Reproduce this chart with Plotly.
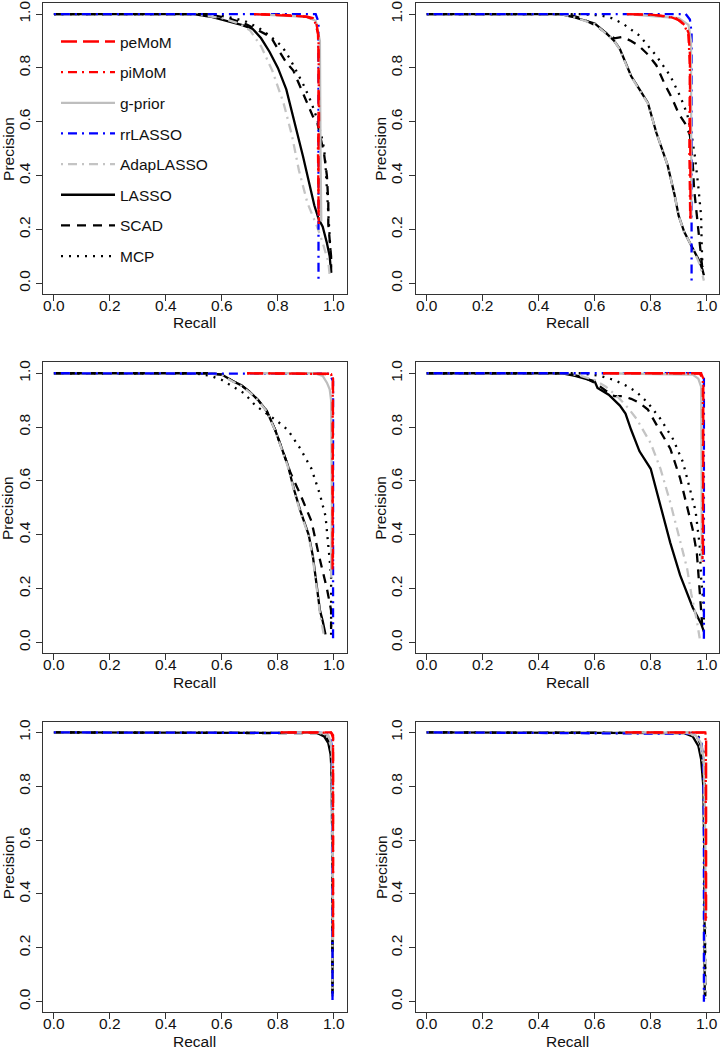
import plotly.graph_objects as go

# ---------------- data ----------------
METHODS = ["peMoM", "piMoM", "g-prior", "rrLASSO", "AdapLASSO", "LASSO", "SCAD", "MCP"]
DRAW_ORDER = ["LASSO", "SCAD", "MCP", "AdapLASSO", "rrLASSO", "g-prior", "piMoM", "peMoM"]
TICK_VALUES = [0.0, 0.2, 0.4, 0.6, 0.8, 1.0]
TICK_LABELS = ["0.0", "0.2", "0.4", "0.6", "0.8", "1.0"]
X_TITLE = "Recall"
Y_TITLE = "Precision"

# each curve: list of (recall, precision) points
PANEL1 = {
    "LASSO": [(0, 1), (0.5, 1), (0.56, 0.99), (0.62, 0.975), (0.67, 0.96), (0.71, 0.945), (0.74, 0.91),
              (0.77, 0.86), (0.80, 0.80), (0.83, 0.72), (0.85, 0.64), (0.87, 0.56), (0.89, 0.47),
              (0.91, 0.38), (0.93, 0.29), (0.945, 0.24), (0.96, 0.21), (0.975, 0.15), (0.985, 0.10),
              (0.99, 0.04)],
    "AdapLASSO": [(0, 1), (0.5, 1), (0.6, 0.985), (0.66, 0.965), (0.70, 0.94), (0.74, 0.88), (0.78, 0.79),
                  (0.82, 0.67), (0.85, 0.55), (0.875, 0.42), (0.905, 0.30), (0.94, 0.21), (0.96, 0.15),
                  (0.98, 0.08), (0.985, 0.03)],
    "SCAD": [(0, 1), (0.55, 1), (0.62, 0.985), (0.68, 0.965), (0.72, 0.945), (0.75, 0.93), (0.775, 0.915),
             (0.80, 0.87), (0.83, 0.82), (0.855, 0.79), (0.88, 0.73), (0.905, 0.67), (0.925, 0.62),
             (0.94, 0.60), (0.955, 0.52), (0.965, 0.48), (0.975, 0.40), (0.98, 0.30), (0.98, 0.22),
             (0.985, 0.17), (0.99, 0.10), (0.99, 0.04)],
    "MCP": [(0, 1), (0.55, 1), (0.62, 0.99), (0.68, 0.975), (0.73, 0.95), (0.77, 0.92), (0.815, 0.88),
            (0.845, 0.83), (0.865, 0.79), (0.895, 0.73), (0.92, 0.67), (0.94, 0.61), (0.955, 0.55),
            (0.965, 0.50), (0.97, 0.44), (0.975, 0.35), (0.98, 0.25), (0.985, 0.18), (0.99, 0.08),
            (0.99, 0.04)],
    "rrLASSO": [(0, 1), (0.935, 1), (0.945, 0.97), (0.945, 0.6), (0.945, 0.0)],
    "g-prior": [(0.715, 1), (0.90, 0.99), (0.935, 0.975), (0.95, 0.90), (0.952, 0.5), (0.955, 0.23)],
    "piMoM": [(0.715, 1), (0.82, 0.997), (0.90, 0.99), (0.93, 0.98), (0.945, 0.92), (0.947, 0.6),
              (0.943, 0.5), (0.946, 0.23)],
    "peMoM": [(0.715, 1), (0.80, 0.997), (0.86, 0.993), (0.905, 0.99), (0.925, 0.985), (0.937, 0.97),
              (0.943, 0.93), (0.945, 0.85), (0.945, 0.70), (0.945, 0.55), (0.943, 0.40), (0.945, 0.30),
              (0.946, 0.22)],
}

PANEL2 = {
    "LASSO": [(0, 1), (0.48, 1), (0.52, 0.99), (0.57, 0.975), (0.60, 0.965), (0.64, 0.93), (0.67, 0.90),
              (0.69, 0.87), (0.71, 0.82), (0.73, 0.77), (0.76, 0.72), (0.79, 0.67), (0.82, 0.56),
              (0.84, 0.50), (0.86, 0.44), (0.885, 0.33), (0.90, 0.25), (0.92, 0.19), (0.94, 0.15),
              (0.955, 0.12), (0.975, 0.08), (0.985, 0.05), (0.99, 0.03)],
    "AdapLASSO": [(0, 1), (0.48, 1), (0.52, 0.99), (0.57, 0.973), (0.60, 0.963), (0.64, 0.928),
                  (0.67, 0.90), (0.69, 0.868), (0.71, 0.82), (0.73, 0.768), (0.76, 0.718), (0.79, 0.668),
                  (0.82, 0.56), (0.84, 0.50), (0.86, 0.44), (0.885, 0.33), (0.90, 0.25), (0.92, 0.19),
                  (0.94, 0.15), (0.955, 0.12), (0.975, 0.07), (0.99, 0.01)],
    "SCAD": [(0, 1), (0.50, 1), (0.55, 0.985), (0.60, 0.96), (0.64, 0.93), (0.67, 0.91), (0.70, 0.915),
             (0.73, 0.90), (0.76, 0.88), (0.79, 0.85), (0.82, 0.81), (0.85, 0.74), (0.875, 0.69),
             (0.90, 0.63), (0.925, 0.59), (0.94, 0.55), (0.95, 0.45), (0.955, 0.35), (0.965, 0.25),
             (0.975, 0.15), (0.98, 0.10), (0.985, 0.05)],
    "MCP": [(0, 1), (0.55, 1), (0.62, 0.995), (0.66, 0.985), (0.70, 0.965), (0.76, 0.92), (0.82, 0.845),
            (0.87, 0.77), (0.905, 0.695), (0.93, 0.63), (0.945, 0.56), (0.958, 0.47), (0.97, 0.36),
            (0.98, 0.25), (0.982, 0.15), (0.985, 0.06)],
    "rrLASSO": [(0, 1), (0.925, 1), (0.94, 0.98), (0.946, 0.93), (0.946, 0.0)],
    "g-prior": [(0.715, 1), (0.90, 0.985), (0.935, 0.96), (0.944, 0.90), (0.945, 0.30), (0.945, 0.24)],
    "piMoM": [(0.715, 1), (0.82, 0.996), (0.89, 0.985), (0.92, 0.96), (0.935, 0.92), (0.94, 0.80),
              (0.938, 0.50), (0.941, 0.24)],
    "peMoM": [(0.715, 1), (0.80, 0.998), (0.87, 0.99), (0.905, 0.975), (0.925, 0.955), (0.935, 0.93),
              (0.94, 0.85), (0.94, 0.50), (0.942, 0.24)],
}

PANEL3 = {
    "LASSO": [(0, 1), (0.55, 1), (0.60, 0.995), (0.64, 0.97), (0.67, 0.955), (0.70, 0.93), (0.73, 0.90),
              (0.76, 0.86), (0.79, 0.79), (0.81, 0.73), (0.835, 0.66), (0.857, 0.57), (0.88, 0.49),
              (0.91, 0.40), (0.925, 0.32), (0.94, 0.20), (0.95, 0.12), (0.96, 0.08), (0.97, 0.03)],
    "AdapLASSO": [(0, 1), (0.55, 1), (0.60, 0.993), (0.64, 0.968), (0.67, 0.953), (0.70, 0.928),
                  (0.73, 0.898), (0.76, 0.858), (0.79, 0.788), (0.81, 0.728), (0.835, 0.655),
                  (0.857, 0.565), (0.88, 0.485), (0.91, 0.395), (0.925, 0.31), (0.94, 0.19),
                  (0.95, 0.11), (0.965, 0.02)],
    "SCAD": [(0, 1), (0.55, 1), (0.60, 0.995), (0.64, 0.97), (0.67, 0.955), (0.70, 0.93), (0.73, 0.90),
             (0.76, 0.86), (0.79, 0.79), (0.81, 0.73), (0.845, 0.63), (0.88, 0.55), (0.92, 0.45),
             (0.945, 0.33), (0.975, 0.20), (0.99, 0.12), (0.99, 0.05)],
    "MCP": [(0, 1), (0.50, 1), (0.56, 0.99), (0.60, 0.975), (0.64, 0.95), (0.68, 0.925), (0.72, 0.88),
            (0.76, 0.85), (0.80, 0.82), (0.835, 0.79), (0.88, 0.72), (0.92, 0.645), (0.95, 0.55),
            (0.97, 0.47), (0.98, 0.37), (0.99, 0.25), (0.99, 0.12), (0.99, 0.01)],
    "rrLASSO": [(0, 1), (0.985, 0.998), (0.997, 0.97), (0.997, 0.0)],
    "g-prior": [(0.69, 1), (0.93, 1), (0.96, 0.99), (0.975, 0.965), (0.985, 0.94), (0.99, 0.90),
                (0.993, 0.50), (0.99, 0.24)],
    "piMoM": [(0.69, 1), (0.99, 0.997), (0.996, 0.97), (0.995, 0.6), (0.997, 0.27)],
    "peMoM": [(0.69, 1), (0.99, 0.998), (0.997, 0.98), (0.997, 0.60), (0.995, 0.26)],
}

PANEL4 = {
    "LASSO": [(0, 1), (0.48, 1), (0.53, 0.99), (0.60, 0.97), (0.61, 0.945), (0.65, 0.92), (0.69, 0.88),
              (0.71, 0.85), (0.73, 0.79), (0.76, 0.71), (0.80, 0.645), (0.83, 0.53), (0.85, 0.45),
              (0.87, 0.37), (0.905, 0.25), (0.93, 0.18), (0.95, 0.13), (0.965, 0.10), (0.98, 0.07),
              (0.99, 0.04)],
    "AdapLASSO": [(0, 1), (0.50, 1), (0.55, 0.99), (0.60, 0.975), (0.64, 0.95), (0.68, 0.915),
                  (0.72, 0.87), (0.75, 0.83), (0.80, 0.74), (0.835, 0.645), (0.87, 0.52), (0.90, 0.40),
                  (0.93, 0.275), (0.945, 0.18), (0.965, 0.08), (0.975, 0.015)],
    "SCAD": [(0, 1), (0.50, 1), (0.56, 0.985), (0.60, 0.965), (0.64, 0.935), (0.67, 0.915), (0.70, 0.915),
             (0.73, 0.905), (0.76, 0.89), (0.79, 0.865), (0.82, 0.81), (0.87, 0.72), (0.905, 0.61),
             (0.93, 0.50), (0.95, 0.42), (0.965, 0.33), (0.975, 0.18), (0.982, 0.08), (0.985, 0.05)],
    "MCP": [(0, 1), (0.55, 1), (0.62, 0.99), (0.67, 0.975), (0.71, 0.955), (0.75, 0.93), (0.79, 0.89),
            (0.835, 0.83), (0.88, 0.755), (0.915, 0.67), (0.94, 0.57), (0.96, 0.49), (0.975, 0.36),
            (0.98, 0.24), (0.988, 0.15), (0.99, 0.08)],
    "rrLASSO": [(0, 1), (0.98, 1), (0.99, 0.99), (0.99, 0.0)],
    "g-prior": [(0.63, 1), (0.95, 0.995), (0.97, 0.98), (0.98, 0.95), (0.982, 0.60), (0.982, 0.30)],
    "piMoM": [(0.63, 1), (0.975, 0.999), (0.986, 0.98), (0.987, 0.6), (0.985, 0.31)],
    "peMoM": [(0.63, 1), (0.98, 1), (0.988, 0.98), (0.988, 0.60), (0.987, 0.30)],
}

PANEL5 = {
    "LASSO": [(0, 1), (0.94, 0.998), (0.965, 0.985), (0.98, 0.96), (0.988, 0.92), (0.992, 0.85),
              (0.995, 0.50), (0.995, 0.02)],
    "AdapLASSO": [(0, 1), (0.95, 0.998), (0.975, 0.985), (0.99, 0.95), (0.993, 0.85), (0.995, 0.02)],
    "SCAD": [(0, 1), (0.95, 0.997), (0.97, 0.985), (0.985, 0.96), (0.99, 0.92), (0.993, 0.80),
             (0.995, 0.03)],
    "MCP": [(0, 1), (0.96, 0.998), (0.98, 0.985), (0.99, 0.95), (0.994, 0.85), (0.995, 0.02)],
    "rrLASSO": [(0, 1), (0.97, 0.998), (0.985, 0.985), (0.993, 0.95), (0.995, 0.80), (0.995, 0.0)],
    "g-prior": [(0.81, 1), (0.96, 0.998), (0.98, 0.99), (0.99, 0.96), (0.995, 0.90), (0.997, 0.50),
                (0.997, 0.23)],
    "piMoM": [(0.81, 1), (0.99, 0.999), (0.997, 0.98), (0.996, 0.60), (0.997, 0.25)],
    "peMoM": [(0.81, 1), (0.99, 1), (0.997, 0.99), (0.997, 0.24)],
}

PANEL6 = {
    "LASSO": [(0, 1), (0.92, 0.997), (0.95, 0.985), (0.97, 0.95), (0.98, 0.90), (0.988, 0.80),
              (0.992, 0.50), (0.993, 0.02)],
    "AdapLASSO": [(0, 1), (0.94, 0.997), (0.965, 0.98), (0.98, 0.94), (0.99, 0.85), (0.995, 0.02)],
    "SCAD": [(0, 1), (0.94, 0.998), (0.965, 0.985), (0.98, 0.95), (0.99, 0.85), (0.995, 0.30),
             (0.995, 0.02)],
    "MCP": [(0, 1), (0.95, 0.998), (0.975, 0.98), (0.988, 0.93), (0.993, 0.80), (0.995, 0.01)],
    "rrLASSO": [(0, 1), (0.96, 0.995), (0.98, 0.97), (0.988, 0.90), (0.99, 0.60), (0.99, 0.0)],
    "g-prior": [(0.71, 1), (0.93, 0.998), (0.96, 0.99), (0.98, 0.96), (0.99, 0.90), (0.995, 0.60),
                (0.996, 0.30)],
    "piMoM": [(0.71, 1), (0.99, 0.999), (0.997, 0.97), (0.996, 0.30)],
    "peMoM": [(0.71, 1), (0.995, 1), (0.998, 0.98), (0.998, 0.31)],
}

PANELS = [PANEL1, PANEL2, PANEL3, PANEL4, PANEL5, PANEL6]

# ---------------- styles ----------------
COLORS = {"peMoM": "#FF0000", "piMoM": "#FF0000", "g-prior": "#BEBEBE", "rrLASSO": "#0000FF",
          "AdapLASSO": "#C4C4C4", "LASSO": "#000000", "SCAD": "#000000", "MCP": "#000000"}
DASHES = {"peMoM": "16px,6px", "piMoM": "2px,5px,9px,5px", "g-prior": "solid",
          "rrLASSO": "2px,5px,9px,5px", "AdapLASSO": "2px,5px,9px,5px", "LASSO": "solid",
          "SCAD": "9px,7px", "MCP": "2px,6px"}
FONT = "Liberation Sans, Arial, Helvetica, sans-serif"
FS = 15.5
W, H = 720, 1050
BOX_W, BOX_H = 303.8, 291.6
COL_LEFT = [42.7, 415.5]
ROW_TOP = [0.3, 360.5, 720.7]
XR = [-0.04, 1.045]
YR = [-0.04, 1.04]

fig = go.Figure()
annotations = []
for i, panel in enumerate(PANELS):
    row, col = divmod(i, 2)
    k = i + 1
    xa = "x" if k == 1 else f"x{k}"
    ya = "y" if k == 1 else f"y{k}"
    for m in DRAW_ORDER:
        pts = panel[m]
        fig.add_trace(go.Scatter(
            x=[p[0] for p in pts], y=[p[1] for p in pts], mode="lines", name=m,
            line=dict(color=COLORS[m], width=2.3, dash=DASHES[m]),
            xaxis=xa, yaxis=ya, showlegend=(i == 0), legendgroup=m,
            legendrank=METHODS.index(m) + 1, hoverinfo="skip"))
    left = COL_LEFT[col]
    top = ROW_TOP[row]
    xdom = [left / W, (left + BOX_W) / W]
    ydom = [1 - (top + BOX_H) / H, 1 - top / H]
    axis_common = dict(showline=True, mirror=True, linecolor="#333333", linewidth=1,
                       ticks="outside", ticklen=6, tickwidth=1, tickcolor="#333333",
                       showgrid=False, zeroline=False, tickvals=TICK_VALUES, ticktext=TICK_LABELS,
                       tickfont=dict(family=FONT, size=FS, color="#111111"))
    fig.layout[("xaxis" if k == 1 else f"xaxis{k}")] = dict(
        domain=xdom, range=XR, anchor=ya, ticklabelstandoff=-9, **axis_common)
    fig.layout[("yaxis" if k == 1 else f"yaxis{k}")] = dict(
        domain=ydom, range=YR, anchor=xa, tickangle=-90, **axis_common)
    annotations.append(dict(text=X_TITLE, xref="paper", yref="paper",
                            x=(left + BOX_W / 2) / W, y=1 - (top + BOX_H + 29) / H,
                            xanchor="center", yanchor="middle", showarrow=False,
                            font=dict(family=FONT, size=FS, color="#111111")))
    annotations.append(dict(text=Y_TITLE, xref="paper", yref="paper",
                            x=(left - 34.5) / W, y=1 - (top + BOX_H / 2) / H, textangle=-90,
                            xanchor="center", yanchor="middle", showarrow=False,
                            font=dict(family=FONT, size=FS, color="#111111")))

fig.update_layout(
    width=W, height=H, margin=dict(l=0, r=0, t=0, b=0),
    paper_bgcolor="white", plot_bgcolor="white",
    annotations=annotations,
    legend=dict(x=56 / W, y=1 - 22 / H, xanchor="left", yanchor="top",
                bgcolor="rgba(0,0,0,0)", borderwidth=0, itemwidth=54,
                tracegroupgap=7.5, traceorder="grouped",
                font=dict(family=FONT, size=FS, color="#111111")),
)

fig.write_html("out.html", config={"displayModeBar": False},
               post_script="document.body.style.margin='0';")
